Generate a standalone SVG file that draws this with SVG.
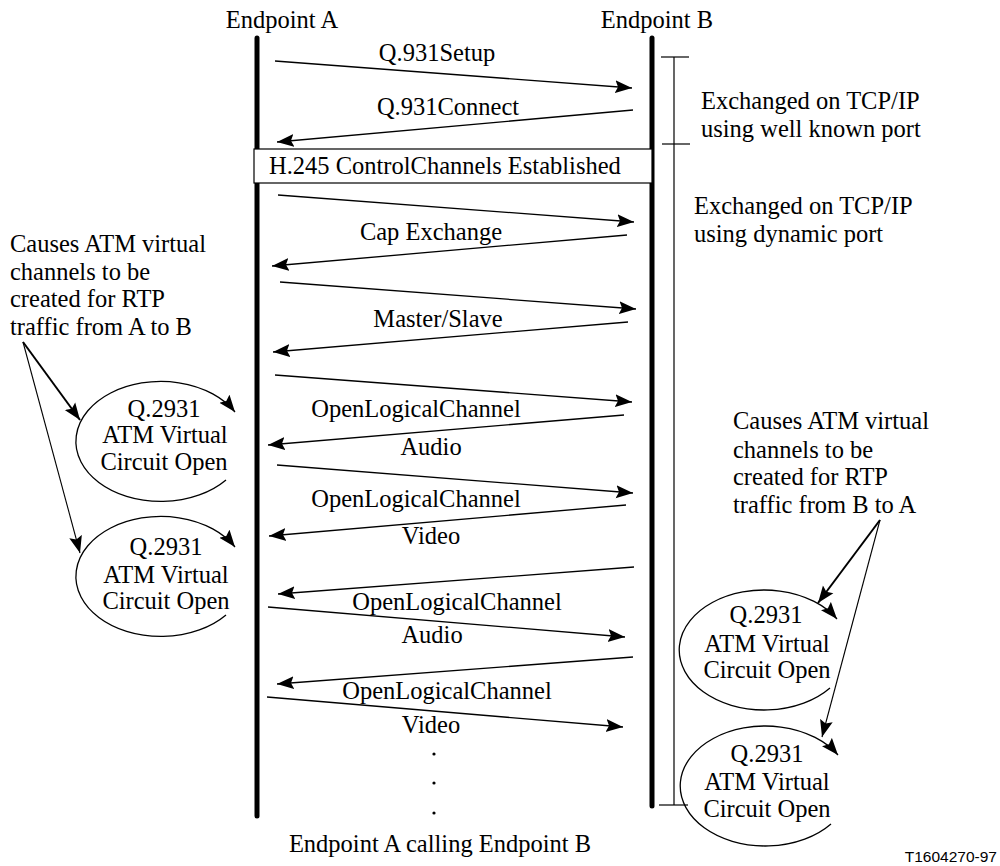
<svg xmlns="http://www.w3.org/2000/svg" width="1000" height="866" viewBox="0 0 1000 866">
<style>
.t text{font-size:24.5px;fill:#000}
.c{text-anchor:middle}
.life{stroke:#000;stroke-width:5;stroke-linecap:round;fill:none}
.thin{stroke:#000;stroke-width:1.2;fill:none}
.msg{stroke:#000;stroke-width:1.3;fill:none;marker-end:url(#ah)}
.arc{stroke:#000;stroke-width:1.3;fill:none;marker-end:url(#ah)}
.ann{stroke:#000;fill:none;marker-end:url(#ah)}
</style>
<defs>
<marker id="ah" markerUnits="userSpaceOnUse" markerWidth="19" markerHeight="14" refX="17" refY="6.5" orient="auto" viewBox="0 0 19 13">
<path d="M0,0 L17,6.5 L0,13 L3,6.5 z" fill="#000"/>
</marker>
</defs>
<rect width="1000" height="866" fill="#fff"/>
<g class="t" font-family="Liberation Serif, Times New Roman, DejaVu Serif, serif">

<g id="endpointA">
<text class="c" x="282" y="28">Endpoint A</text>
<line class="life" x1="257" y1="38" x2="257" y2="816"/>
</g>
<g id="endpointB">
<text class="c" x="657" y="28">Endpoint B</text>
<line class="life" x1="652" y1="38" x2="652" y2="806"/>
</g>

<g id="bracket">
<line class="thin" x1="674" y1="57" x2="674" y2="805"/>
<line class="thin" x1="661" y1="57" x2="689" y2="57"/>
<line class="thin" x1="662" y1="144" x2="690" y2="144"/>
<line class="thin" x1="659" y1="805" x2="688" y2="805"/>
</g>

<g id="note-wellknown">
<text x="701" y="109">Exchanged on TCP/IP</text>
<text x="701" y="137">using well known port</text>
</g>
<g id="note-dynamic">
<text x="694" y="214">Exchanged on TCP/IP</text>
<text x="694" y="242">using dynamic port</text>
</g>

<g id="h245box">
<rect x="254" y="149" width="398" height="34" fill="#fff" stroke="#000" stroke-width="1.2"/>
<text x="269" y="174">H.245 ControlChannels Established</text>
</g>

<g id="labels">
<text class="c" x="437" y="61">Q.931Setup</text>
<text class="c" x="448" y="115">Q.931Connect</text>
<text class="c" x="431" y="240">Cap Exchange</text>
<text class="c" x="438" y="327">Master/Slave</text>
<text class="c" x="416" y="417">OpenLogicalChannel</text>
<text class="c" x="431" y="455">Audio</text>
<text class="c" x="416" y="507">OpenLogicalChannel</text>
<text class="c" x="431" y="544">Video</text>
<text class="c" x="457" y="610">OpenLogicalChannel</text>
<text class="c" x="432" y="643">Audio</text>
<text class="c" x="447" y="699">OpenLogicalChannel</text>
<text class="c" x="431" y="733">Video</text>
<circle cx="434" cy="754" r="1.6" fill="#000"/>
<circle cx="434" cy="783" r="1.6" fill="#000"/>
<circle cx="434" cy="813" r="1.6" fill="#000"/>
<text class="c" x="440" y="852">Endpoint A calling Endpoint B</text>
</g>

<g id="connectors">
<line class="msg" x1="275" y1="61" x2="632" y2="88"/>
<line class="msg" x1="633" y1="110" x2="277" y2="142"/>
<line class="msg" x1="278" y1="195" x2="634" y2="222"/>
<line class="msg" x1="627" y1="235" x2="272" y2="266"/>
<line class="msg" x1="280" y1="282" x2="636" y2="309"/>
<line class="msg" x1="628" y1="322" x2="273" y2="352"/>
<line class="msg" x1="275" y1="375" x2="632" y2="402"/>
<line class="msg" x1="624" y1="415" x2="268" y2="445"/>
<line class="msg" x1="277" y1="465" x2="633" y2="493"/>
<line class="msg" x1="626" y1="505" x2="269" y2="536"/>
<line class="msg" x1="634" y1="567" x2="278" y2="594"/>
<line class="msg" x1="268" y1="607" x2="625" y2="637"/>
<line class="msg" x1="633" y1="657" x2="277" y2="684"/>
<line class="msg" x1="267" y1="697" x2="623" y2="727"/>
<line class="ann" stroke-width="2" x1="23" y1="342" x2="80" y2="420"/>
<line class="ann" stroke-width="1.1" x1="23" y1="342" x2="80" y2="553"/>
<line class="ann" stroke-width="2" x1="880" y1="520" x2="818" y2="603"/>
<line class="ann" stroke-width="1.1" x1="880" y1="520" x2="822" y2="737"/>
</g>

<g id="noteA">
<text x="10" y="252">Causes ATM virtual</text>
<text x="10" y="280">channels to be</text>
<text x="10" y="307">created for RTP</text>
<text x="10" y="335">traffic from A to B</text>
</g>
<g id="noteB">
<text x="733" y="429">Causes ATM virtual</text>
<text x="733" y="458">channels to be</text>
<text x="733" y="485">created for RTP</text>
<text x="733" y="513">traffic from B to A</text>
</g>

<g id="vcA1">
<path class="arc" d="M226,480 A85,60 0 1 1 235,412"/>
<text class="c" x="164" y="417">Q.2931</text>
<text class="c" x="165" y="443">ATM Virtual</text>
<text class="c" x="164" y="470">Circuit Open</text>
</g>
<g id="vcA2">
<path class="arc" d="M226,615 A85,60 0 1 1 235,547"/>
<text class="c" x="166" y="555">Q.2931</text>
<text class="c" x="166" y="583">ATM Virtual</text>
<text class="c" x="166" y="609">Circuit Open</text>
</g>
<g id="vcB1">
<path class="arc" d="M830,688 A85,60 0 1 1 837,619"/>
<text class="c" x="766" y="623">Q.2931</text>
<text class="c" x="767" y="652">ATM Virtual</text>
<text class="c" x="767" y="678">Circuit Open</text>
</g>
<g id="vcB2">
<path class="arc" d="M831,824 A85,60 0 1 1 838,755"/>
<text class="c" x="767" y="762">Q.2931</text>
<text class="c" x="767" y="790">ATM Virtual</text>
<text class="c" x="767" y="817">Circuit Open</text>
</g>
</g>

<g id="figid">
<text x="997" y="862" font-family="Liberation Sans, Arial, sans-serif" font-size="15.5" text-anchor="end">T1604270-97</text>
</g>
</svg>
